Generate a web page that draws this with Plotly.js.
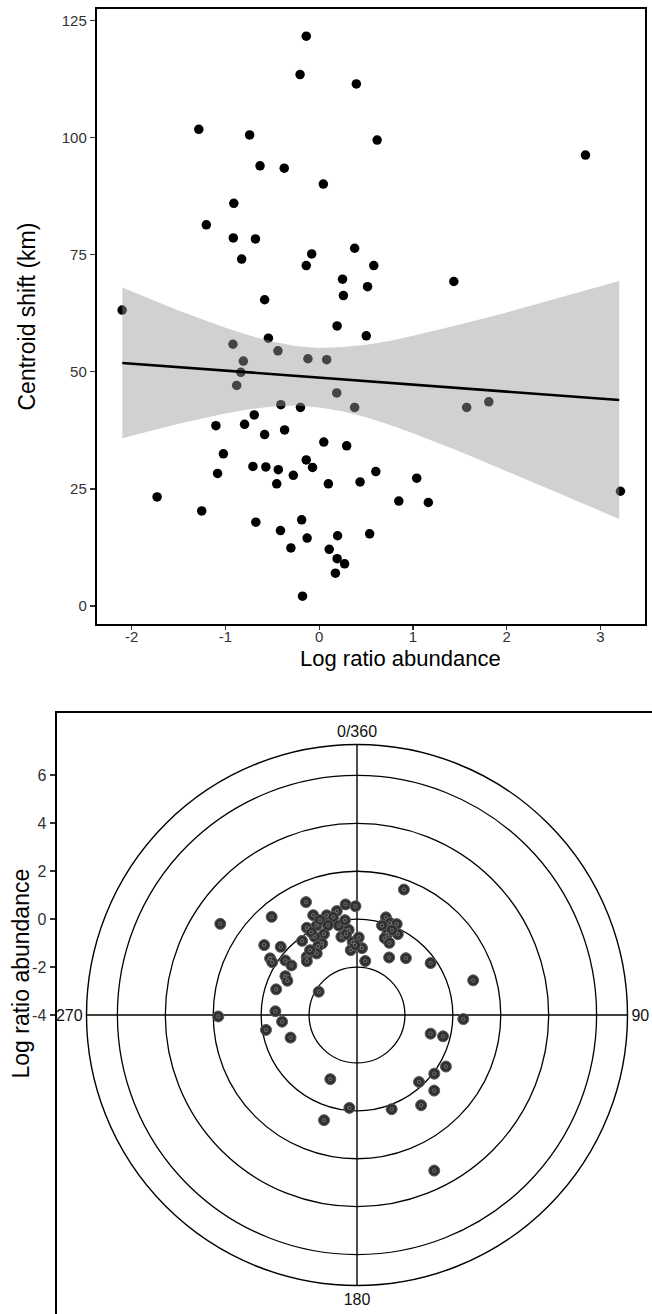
<!DOCTYPE html>
<html>
<head>
<meta charset="utf-8">
<script src="https://cdn.plot.ly/plotly-3.0.1.min.js"></script>
<style>html,body{margin:0;padding:0;background:#fff;}#chart{width:652px;height:1314px;}</style>
</head>
<body>
<div id="chart"></div>
<script>
// ---- Top panel: centroid shift vs log ratio abundance ----
const logRatio = [-0.138,-0.204,0.396,-1.284,-0.742,0.618,2.84,-0.631,-0.373,0.044,
  -0.911,-1.204,-0.916,-0.68,-0.08,0.378,-0.827,-0.138,0.582,0.249,
  1.436,0.516,0.258,-0.582,-2.102,0.191,0.502,-0.542,-0.92,-0.44,
  -0.12,0.08,-0.809,-0.836,-0.88,0.187,-0.409,-0.2,0.378,1.573,
  1.809,-0.693,-1.102,-0.796,-0.369,-0.582,0.049,0.293,-1.022,-0.138,
  -0.707,-0.569,-0.071,-0.436,0.604,-1.084,-0.276,1.04,-0.453,0.098,
  0.436,3.213,-1.729,0.849,1.164,-1.253,-0.676,-0.187,-0.413,0.538,
  0.196,-0.129,-0.302,0.107,0.191,0.271,0.173,-0.178];
const centroidShift = [121.7,113.5,111.5,101.8,100.6,99.5,96.3,94.0,93.5,90.1,
  86.0,81.4,78.6,78.4,75.2,76.4,74.1,72.7,72.7,69.8,
  69.3,68.2,66.3,65.4,63.2,59.8,57.7,57.2,55.9,54.5,
  52.8,52.6,52.3,49.9,47.1,45.5,43.0,42.4,42.4,42.4,
  43.6,40.8,38.5,38.8,37.6,36.6,35.0,34.2,32.5,31.2,
  29.8,29.7,29.6,29.1,28.7,28.3,27.9,27.3,26.1,26.1,
  26.5,24.5,23.3,22.4,22.1,20.3,17.9,18.4,16.1,15.4,
  15.0,14.5,12.4,12.1,10.1,9.0,7.0,2.1];
const fitX = [-2.1, 3.2];
const fitY = [51.9, 44.0];
const bandX = [-2.1,-1.5,-1.0,-0.75,-0.5,-0.25,0,0.25,0.5,0.75,1.0,1.5,2.0,2.5,3.0,3.2];
const bandUpper = [68.0,63.1,59.4,57.8,56.5,55.5,55.1,55.3,55.8,56.6,57.7,60.1,62.7,65.5,68.3,69.4];
const bandLower = [35.8,38.9,41.1,42.0,42.6,42.8,42.4,41.6,40.3,38.7,36.9,33.0,28.9,24.6,20.3,18.6];
const topXTicks = [-2,-1,0,1,2,3];
const topXTickText = ['-2','-1','0','1','2','3'];
const topYTicks = [0,25,50,75,100,125];

// ---- Bottom panel: polar plot (direction of shift vs log ratio abundance) ----
const polarR = [2.86,1.43,1.17,0.55,0.35,0.42,0.64,0.54,0.21,-0.19,
  0.20,0.10,-0.35,-0.29,-0.68,-0.15,-0.05,-0.70,-0.43,-0.67,
  -0.60,-0.95,-0.76,-1.28,-1.20,-1.72,-1.08,0.85,0.27,0.33,
  0.17,-0.24,-0.57,-0.79,-0.93,-0.93,-0.60,-0.76,-0.46,-2.13,
  -0.59,-0.86,1.79,-0.15,-1.07,1.59,0.25,0.08,0.14,-0.12,
  -0.40,-0.22,-0.59,-0.70,-1.25,-0.87,-0.24,1.06,0.44,-0.83,
  -0.30,-1.10,0.29,0.05,-0.19,0.51,-0.11,0.19,0.62,0.60,
  3.25,0.25,-0.06,-0.66,-0.17,-0.01];
const polarTheta = [303.7,319.0,335.7,336.3,343.1,349.0,354.1,359.2,346.4,348.5,
  330.1,335.8,337.8,331.6,334.0,323.5,331.0,330.5,354.4,348.7,
  352.3,356.6,1.3,354.5,4.3,8.7,358.4,307.0,311.8,303.1,
  301.9,307.3,307.1,319.2,317.0,326.8,298.5,296.2,287.6,301.3,
  272.6,264.9,269.4,260.7,251.2,20.5,16.5,19.7,23.6,15.6,
  20.5,26.8,19.8,24.1,29.2,40.7,54.8,73.4,92.2,104.2,
  103.9,202.6,120.1,127.2,137.2,134.4,184.7,159.8,144.6,197.4,
  153.6,338.7,342.1,324.1,22.4,352.8];
const polarRadialRange = [-4, 7.29];
const polarRings = [-2,0,2,4,6];
const polarAngles = [0,90,180,270];
const polarAngleText = ['0/360','90','180','270'];
const bottomYTicks = [-4,-2,0,2,4,6];
const bottomYTickText = ['-4','-2','0','2','4','6'];

const W = 652, H = 1314;
const px = v => v / W;
const py = v => 1 - v / H;
const FONT = 'Liberation Sans, Arial, Helvetica, sans-serif';

const traces = [
  {type:'scatter', mode:'markers', x:logRatio, y:centroidShift, xaxis:'x', yaxis:'y',
   marker:{color:'#000', size:9.5}, hoverinfo:'x+y', showlegend:false},
  {type:'scatter', mode:'lines', x:bandX.concat(bandX.slice().reverse()),
   y:bandUpper.concat(bandLower.slice().reverse()), fill:'toself',
   fillcolor:'rgba(153,153,153,0.45)', line:{width:0, color:'rgba(0,0,0,0)'},
   xaxis:'x', yaxis:'y', hoverinfo:'skip', showlegend:false},
  {type:'scatter', mode:'lines', x:fitX, y:fitY, line:{color:'#000', width:2.6},
   xaxis:'x', yaxis:'y', hoverinfo:'skip', showlegend:false},
  {type:'scatter', mode:'markers', x:[], y:[], xaxis:'x2', yaxis:'y2', showlegend:false, hoverinfo:'skip'},
  {type:'scatterpolar', mode:'markers', r:polarR, theta:polarTheta, subplot:'polar',
   marker:{color:'#303030', size:11, line:{color:'#5c5c5c', width:1}}, showlegend:false},
  {type:'scatterpolar', mode:'markers', r:polarR, theta:polarTheta, subplot:'polar',
   marker:{symbol:'circle-open', color:'#808080', size:3.5, line:{width:0.8}}, hoverinfo:'skip', showlegend:false}
];

const tickFont = {family:FONT, size:15, color:'#333'};
const layout = {
  width:W, height:H, autosize:false,
  margin:{l:0, r:0, t:0, b:0},
  paper_bgcolor:'#fff', plot_bgcolor:'rgba(0,0,0,0)',
  showlegend:false,
  xaxis:{domain:[px(97), px(645)], range:[-2.37, 3.475], tickvals:topXTicks, ticktext:topXTickText,
    ticks:'outside', ticklen:4, tickwidth:1.2, tickcolor:'#333', tickfont:tickFont, ticklabelstandoff:-6,
    showline:true, mirror:true, linecolor:'#000', linewidth:2.2, showgrid:false, zeroline:false,
    anchor:'y'},
  yaxis:{domain:[py(624), py(9)], range:[-3.85, 127.5], tickvals:topYTicks,
    ticks:'outside', ticklen:5, tickwidth:1.2, tickcolor:'#333', tickfont:tickFont,
    showline:true, mirror:true, linecolor:'#000', linewidth:2.2, showgrid:false, zeroline:false,
    anchor:'x'},
  xaxis2:{domain:[px(56.7), 1], range:[0,1], side:'top', showline:true, linecolor:'#000', linewidth:2.2,
    showticklabels:false, ticks:'', showgrid:false, zeroline:false, anchor:'y2', fixedrange:true},
  yaxis2:{domain:[0, py(713)], range:[-4 - (H - 1015)/24, -4 + (1015 - 713)/24],
    tickvals:bottomYTicks, ticktext:bottomYTickText,
    ticks:'outside', ticklen:5, tickwidth:1.2, tickcolor:'#333', tickfont:{family:FONT, size:16, color:'#333'},
    showline:true, linecolor:'#000', linewidth:2.2, showgrid:false, zeroline:false, anchor:'x2', fixedrange:true},
  polar:{
    domain:{x:[px(86.5), px(627.5)], y:[py(1286), py(744)]},
    bgcolor:'rgba(0,0,0,0)',
    radialaxis:{range:polarRadialRange, tickvals:polarRings, showticklabels:false, ticks:'',
      showline:false, showgrid:true, gridcolor:'#000', gridwidth:1.3},
    angularaxis:{direction:'clockwise', rotation:90, tickvals:polarAngles, ticktext:polarAngleText,
      ticks:'', showline:true, linecolor:'#000', linewidth:1.4, showgrid:true, gridcolor:'#000', gridwidth:1.4,
      tickfont:{family:FONT, size:16, color:'#111'}}
  },
  annotations:[
    {text:'Centroid shift (km)', xref:'paper', yref:'paper', x:px(26), y:py(316.5), textangle:-90,
     xanchor:'center', yanchor:'middle', showarrow:false, font:{family:FONT, size:23, color:'#000'}},
    {text:'Log ratio abundance', xref:'paper', yref:'paper', x:px(400.5), y:py(658), 
     xanchor:'center', yanchor:'middle', showarrow:false, font:{family:FONT, size:22, color:'#000'}},
    {text:'Log ratio abundance', xref:'paper', yref:'paper', x:px(20), y:py(973.5), textangle:-90,
     xanchor:'center', yanchor:'middle', showarrow:false, font:{family:FONT, size:23, color:'#000'}}
  ]
};

Plotly.newPlot('chart', traces, layout, {displayModeBar:false, staticPlot:true});
</script>
</body>
</html>
